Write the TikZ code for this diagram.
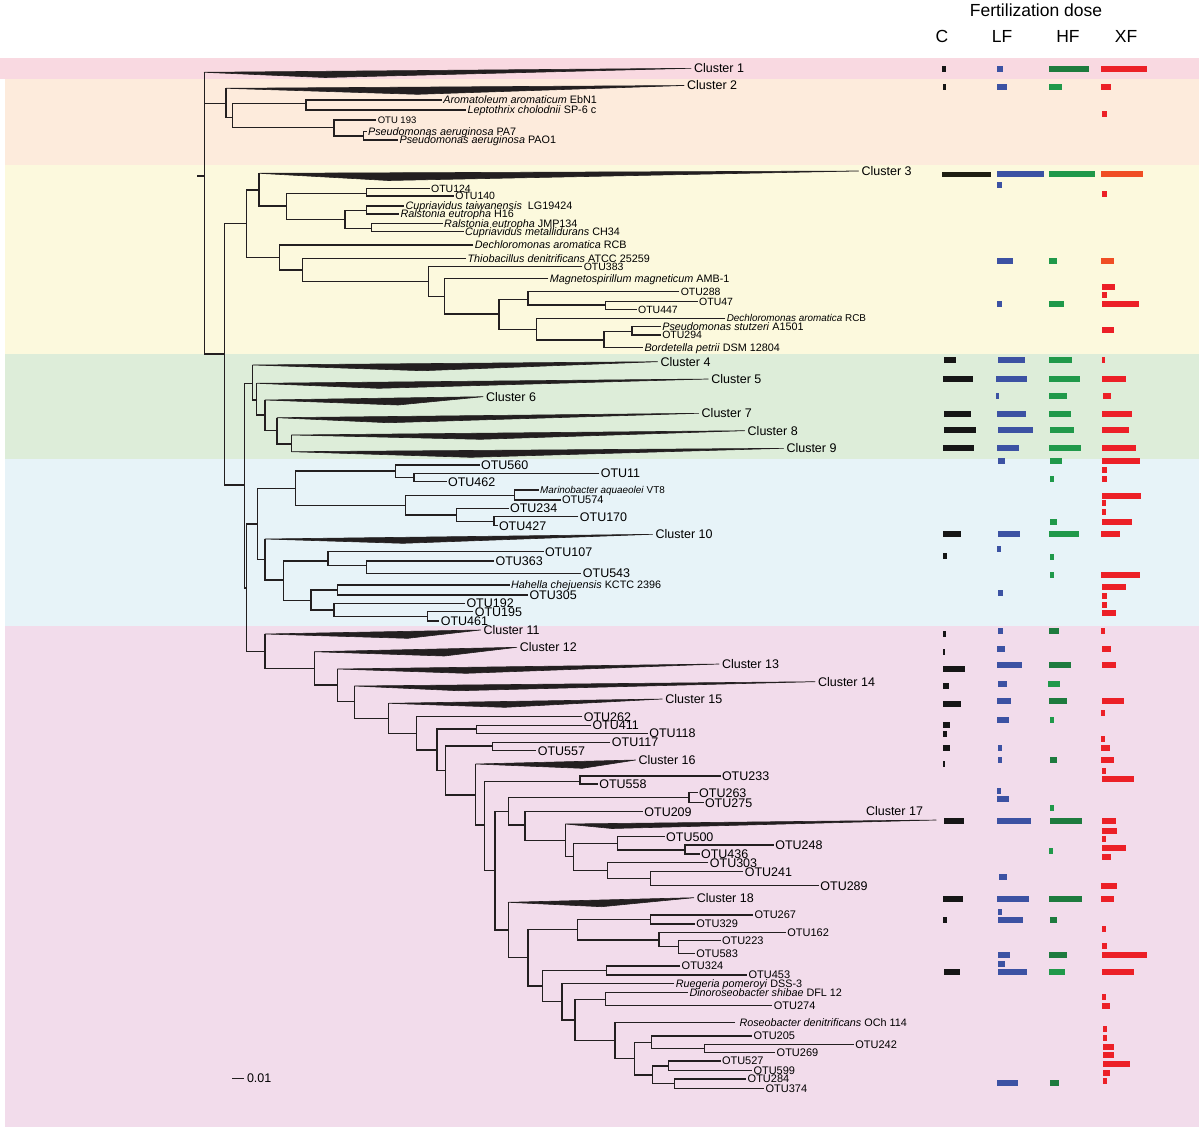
\documentclass[tikz,border=0pt]{standalone}
\usepackage{fontspec}
\setmainfont{Liberation Sans}
\definecolor{bpk}{HTML}{F9D9E1}
\definecolor{bpe}{HTML}{FDEBDC}
\definecolor{bye}{HTML}{FCF9DD}
\definecolor{bgr}{HTML}{DDEDD9}
\definecolor{bbl}{HTML}{E7F3F8}
\definecolor{bli}{HTML}{F2DCEB}
\definecolor{treec}{HTML}{231F20}
\definecolor{colC}{HTML}{161616}
\definecolor{colCo}{HTML}{1F1E12}
\definecolor{colL}{HTML}{3C52A3}
\definecolor{colH}{HTML}{20994A}
\definecolor{colHd}{HTML}{1E7B3E}
\definecolor{colX}{HTML}{EC2027}
\definecolor{colXo}{HTML}{F04E24}
\newcommand{\clade}[5]{%
  \coordinate (#1) at (#2);
  \coordinate (#1t) at (#4);
  \filldraw[twedge] (#1) -- (#3) -- (#1t) -- cycle;
  \node[tcl] (#1l) at (#1t) {#5};}
\begin{document}
\begin{tikzpicture}[x=1pt,y=-1pt,
  tbr/.style={draw=treec, line width=1.4pt},
  twedge/.style={fill=treec, draw=treec, line width=0.6pt, line join=round},
  tcl/.style={anchor=west, inner xsep=3pt, inner ysep=0pt, outer sep=0pt, font=\fontsize{12.5}{14}\selectfont, text height=8.95pt, text depth=0pt},
  tlt/.style={anchor=west, inner xsep=1.5pt, inner ysep=0pt, outer sep=0pt, font=\fontsize{10.5}{12}\selectfont, text height=7.52pt, text depth=0pt},
  tls/.style={anchor=west, inner xsep=1.5pt, inner ysep=0pt, outer sep=0pt, font=\fontsize{9.5}{11}\selectfont, text height=6.8pt, text depth=0pt},
  tlm/.style={anchor=west, inner xsep=1.5pt, inner ysep=0pt, outer sep=0pt, font=\fontsize{11}{13}\selectfont, text height=7.88pt, text depth=0pt},
  tlb/.style={anchor=west, inner xsep=1.5pt, inner ysep=0pt, outer sep=0pt, font=\fontsize{12.5}{14}\selectfont, text height=8.95pt, text depth=0pt},
  tsp/.style={anchor=west, inner xsep=1.5pt, inner ysep=0pt, outer sep=0pt, font=\fontsize{10.8}{12}\selectfont, text height=7.73pt, text depth=0pt},
  tsps/.style={anchor=west, inner xsep=1.5pt, inner ysep=0pt, outer sep=0pt, font=\fontsize{9.9}{11}\selectfont, text height=7.09pt, text depth=0pt},
  thd/.style={anchor=base, inner sep=0pt, font=\fontsize{17.5}{20}\selectfont}
]
\useasboundingbox (0,0) rectangle (1199,1127);
% bands
\fill[white] (0,0) rectangle (1199,1127);
\fill[bpk] (0,58) rectangle (1199,79);
\fill[bpe] (5,79) rectangle (1199,165);
\fill[bye] (5,165) rectangle (1199,354);
\fill[bgr] (5,354) rectangle (1199,459);
\fill[bbl] (5,459) rectangle (1199,626);
\fill[bli] (5,626) rectangle (1199,1127);
% headers
\node[thd] (hdr) at (1036,16.7) {Fertilization dose};
\node[thd] (hC) at (942,42.7) {C};
\node[thd] (hLF) at (1002,42.7) {LF};
\node[thd] (hHF) at (1068,42.7) {HF};
\node[thd] (hXF) at (1126,42.7) {XF};
% ---------- tree: top ----------
\clade{c1b}{204.2,72.3}{325,77.5}{691,68.3}{Cluster 1}
\coordinate (R) at (204.2,176);
\coordinate (Rs) at (197,176);
\coordinate (N2) at (226,103.3);
\coordinate (A) at (224.6,354);
\draw[tbr] (Rs) -- (R);
\draw[tbr] (c1b) -- (R) |- (A);
\draw[tbr] (R |- N2) -- (N2);
\clade{c2b}{226,88.3}{417.5,94.3}{684.1,85.5}{Cluster 2}
\coordinate (N2b) at (232.4,117.7);
\draw[tbr] (c2b) |- (N2b);
\coordinate (N2c) at (306,103.3);
\coordinate (N2d) at (334.1,127.7);
\draw[tbr] (N2c) -| (N2b) |- (N2d);
\node[tsp] (aro) at (441.8,100) {\textit{Aromatoleum aromaticum} EbN1};
\node[tsp] (lep) at (466,110) {\textit{Leptothrix cholodnii} SP-6 c};
\draw[tbr] (aro.west) -| (N2c) |- (lep.west);
\node[tls] (o193) at (376.3,120) {OTU 193};
\coordinate (N2e) at (363.2,136);
\draw[tbr] (o193.west) -| (N2d) |- (N2e);
\node[tsp] (pa7) at (366.6,131.7) {\textit{Pseudomonas aeruginosa} PA7};
\node[tsp] (pao) at (398.1,140) {\textit{Pseudomonas aeruginosa} PAO1};
\draw[tbr] (pa7.west) -| (N2e) |- (pao.west);
% ---------- yellow ----------
\coordinate (Y) at (246.4,223.3);
\coordinate (B) at (244.5,485);
\draw[tbr] (Y) -| (A) |- (B);
\coordinate (Y1) at (259,190);
\coordinate (Y2) at (279.4,257.3);
\draw[tbr] (Y1) -| (Y) |- (Y2);
\clade{c3b}{259,173.3}{388.4,180.5}{858.6,171}{Cluster 3}
\coordinate (Y1b) at (286.6,206);
\draw[tbr] (c3b) |- (Y1b);
\coordinate (Y1c) at (366.6,193.3);
\coordinate (Y1d) at (344.8,219.3);
\draw[tbr] (Y1c) -| (Y1b) |- (Y1d);
\node[tlt] (o124) at (429.6,188.3) {OTU124};
\node[tlt] (o140) at (453.9,196) {OTU140};
\draw[tbr] (o124.west) -| (Y1c) |- (o140.west);
\coordinate (Y1e) at (366.6,210.7);
\coordinate (Y1f) at (371.5,228.3);
\draw[tbr] (Y1e) -| (Y1d) |- (Y1f);
\node[tsp] (ctai) at (404,206) {\textit{Cupriavidus taiwanensis}\ \ LG19424};
\node[tsp] (reh) at (399,214) {\textit{Ralstonia eutropha} H16};
\draw[tbr] (ctai.west) -| (Y1e) |- (reh.west);
\node[tsp] (rej) at (442.7,223.3) {\textit{Ralstonia eutropha} JMP134};
\node[tsp] (cme) at (463.6,231.7) {\textit{Cupriavidus metallidurans} CH34};
\draw[tbr] (rej.west) -| (Y1f) |- (cme.west);
\node[tsp] (dar1) at (473.3,245) {\textit{Dechloromonas aromatica} RCB};
\coordinate (Y2b) at (302.2,270);
\draw[tbr] (dar1.west) -| (Y2) |- (Y2b);
\node[tsp] (thi) at (466,258.3) {\textit{Thiobacillus denitrificans} ATCC 25259};
\coordinate (Y2c) at (428.2,281.7);
\draw[tbr] (thi.west) -| (Y2b) |- (Y2c);
\node[tlt] (o383) at (582.3,266.7) {OTU383};
\coordinate (Y2d) at (444.2,296.7);
\draw[tbr] (o383.west) -| (Y2c) |- (Y2d);
\node[tsp] (mag) at (548.4,278.3) {\textit{Magnetospirillum magneticum} AMB-1};
\coordinate (Y2e) at (499,314);
\draw[tbr] (mag.west) -| (Y2d) |- (Y2e);
\coordinate (Y2f) at (528,299.3);
\coordinate (Y2g) at (536.3,329.3);
\draw[tbr] (Y2f) -| (Y2e) |- (Y2g);
\node[tlt] (o288) at (679.3,291.7) {OTU288};
\coordinate (Y2h) at (605.6,305);
\draw[tbr] (o288.west) -| (Y2f) |- (Y2h);
\node[tlt] (o47) at (697.7,301.7) {OTU47};
\node[tlt] (o447) at (636.6,309.3) {OTU447};
\draw[tbr] (o47.west) -| (Y2h) |- (o447.west);
\node[tsps] (dar2) at (725.3,318.3) {\textit{Dechloromonas aromatica} RCB};
\coordinate (Y2i) at (604.1,340);
\draw[tbr] (dar2.west) -| (Y2g) |- (Y2i);
\coordinate (Y2j) at (631.8,331.7);
\node[tsp] (bor) at (643,347.3) {\textit{Bordetella petrii} DSM 12804};
\draw[tbr] (Y2j) -| (Y2i) |- (bor.west);
\node[tsp] (pst) at (660.8,326.7) {\textit{Pseudomonas stutzeri} A1501};
\node[tlt] (o294) at (660.8,335) {OTU294};
\draw[tbr] (pst.west) -| (Y2j) |- (o294.west);
% ---------- green ----------
\coordinate (G) at (252.7,383.3);
\coordinate (Cn) at (246.4,588);
\draw[tbr] (G) -| (B) |- (Cn);
\clade{c4b}{252.7,365}{422.4,370.7}{657.5,361.7}{Cluster 4}
\coordinate (G2) at (256.6,400);
\draw[tbr] (c4b) |- (G2);
\clade{c5b}{256.6,383.3}{378.7,388.3}{708.4,379}{Cluster 5}
\coordinate (G3) at (264.8,415);
\draw[tbr] (c5b) |- (G3);
\clade{c6b}{264.8,400}{398.1,405}{483,396.7}{Cluster 6}
\coordinate (G4) at (277,430.7);
\draw[tbr] (c6b) |- (G4);
\clade{c7b}{277,417.7}{388.4,422.7}{698.7,413.3}{Cluster 7}
\coordinate (G5) at (291.5,444);
\draw[tbr] (c7b) |- (G5);
\clade{c8b}{291.5,435}{480.5,439.3}{744.7,430.7}{Cluster 8}
\clade{c9b}{291.5,451.7}{470.8,457.3}{783.5,448.3}{Cluster 9}
\draw[tbr] (c8b) -- (c9b);
% ---------- blue ----------
\coordinate (D) at (257.6,524);
\coordinate (P1) at (264.8,651.7);
\draw[tbr] (D) -| (Cn) |- (P1);
\coordinate (D1) at (295.4,488.3);
\coordinate (D2) at (264.8,559.3);
\draw[tbr] (D1) -| (D) |- (D2);
\coordinate (D1a) at (395.7,471);
\coordinate (D1b) at (405.4,505.7);
\draw[tbr] (D1a) -| (D1) |- (D1b);
\node[tlb] (o560) at (479.6,465) {OTU560};
\coordinate (D1c) at (414.1,477.7);
\draw[tbr] (o560.west) -| (D1a) |- (D1c);
\node[tlb] (o11) at (599.3,473.3) {OTU11};
\node[tlb] (o462) at (446.6,481.7) {OTU462};
\draw[tbr] (o11.west) -| (D1c) |- (o462.west);
\coordinate (D1d) at (514.5,495.7);
\coordinate (D1e) at (456.3,515);
\draw[tbr] (D1d) -| (D1b) |- (D1e);
\node[tsps] (mar) at (538.7,490) {\textit{Marinobacter aquaeolei} VT8};
\node[tlm] (o574) at (560.5,500) {OTU574};
\draw[tbr] (mar.west) -| (D1d) |- (o574.west);
\node[tlb] (o234) at (508.6,508.3) {OTU234};
\coordinate (D1f) at (494.1,521.7);
\draw[tbr] (o234.west) -| (D1e) |- (D1f);
\node[tlb] (o170) at (578.4,516.7) {OTU170};
\node[tlb] (o427) at (497.5,525.7) {OTU427};
\draw[tbr] (o170.west) -| (D1f) |- (o427.west);
\clade{c10b}{264.8,539}{403,543.3}{652.6,534.3}{Cluster 10}
\coordinate (D3) at (283.2,580);
\draw[tbr] (c10b) |- (D3);
\coordinate (D3a) at (327.8,561);
\coordinate (D3b) at (310.9,600.7);
\draw[tbr] (D3a) -| (D3) |- (D3b);
\node[tlb] (o107) at (543.5,551.7) {OTU107};
\coordinate (D3c) at (366.6,565.7);
\draw[tbr] (o107.west) -| (D3a) |- (D3c);
\node[tlb] (o363) at (494.1,561) {OTU363};
\node[tlb] (o543) at (581.4,573.3) {OTU543};
\draw[tbr] (o363.west) -| (D3c) |- (o543.west);
\coordinate (D3d) at (337.5,590);
\coordinate (D3e) at (334.1,610);
\draw[tbr] (D3d) -| (D3b) |- (D3e);
\node[tsp] (hah) at (509.6,585) {\textit{Hahella chejuensis} KCTC 2396};
\node[tlb] (o305) at (528,595) {OTU305};
\draw[tbr] (hah.west) -| (D3d) |- (o305.west);
\node[tlb] (o192) at (465,603.3) {OTU192};
\coordinate (D3f) at (427.2,616.7);
\draw[tbr] (o192.west) -| (D3e) |- (D3f);
\node[tlb] (o195) at (473.3,611.7) {OTU195};
\node[tlb] (o461) at (439.3,621) {OTU461};
\draw[tbr] (o195.west) -| (D3f) |- (o461.west);
% ---------- pink ----------
\clade{c11b}{264.8,634}{407.8,638.3}{480.5,630}{Cluster 11}
\coordinate (P2) at (314.3,668.3);
\draw[tbr] (c11b) |- (P2);
\clade{c12b}{314.3,651.7}{444.2,656}{516.9,647.3}{Cluster 12}
\coordinate (P3) at (337.5,685);
\draw[tbr] (c12b) |- (P3);
\clade{c13b}{337.5,669}{466,673.3}{719,664}{Cluster 13}
\coordinate (P4) at (354.5,701.7);
\draw[tbr] (c13b) |- (P4);
\clade{c14b}{354.5,686}{458.7,690.7}{815,681.7}{Cluster 14}
\coordinate (P5) at (388.4,718.3);
\draw[tbr] (c14b) |- (P5);
\clade{c15b}{388.4,703.3}{504.8,707.3}{662.3,699}{Cluster 15}
\coordinate (P6) at (416.5,733.3);
\draw[tbr] (c15b) |- (P6);
\node[tlb] (o262) at (582.3,716.7) {OTU262};
\coordinate (P7) at (436.9,750);
\draw[tbr] (o262.west) -| (P6) |- (P7);
\coordinate (P8) at (476.7,729);
\coordinate (P9) at (445.6,770.7);
\draw[tbr] (P8) -| (P7) |- (P9);
\node[tlb] (o411) at (591,725.3) {OTU411};
\node[tlb] (o118) at (647.8,733.3) {OTU118};
\draw[tbr] (o411.west) -| (P8) |- (o118.west);
\coordinate (P10) at (492.7,746);
\coordinate (P11) at (475.7,795);
\draw[tbr] (P10) -| (P9) |- (P11);
\node[tlb] (o117) at (610.4,742.3) {OTU117};
\node[tlb] (o557) at (536.3,750.7) {OTU557};
\draw[tbr] (o117.west) -| (P10) |- (o557.west);
\clade{c16b}{475.7,764}{582.3,768.3}{635.6,760}{Cluster 16}
\coordinate (P12) at (484.4,825);
\draw[tbr] (c16b) |- (P12);
\coordinate (P13) at (579.9,781.7);
\coordinate (P14) at (495.1,870.7);
\draw[tbr] (P13) -| (P12) |- (P14);
\node[tlb] (o233) at (720.5,776) {OTU233};
\node[tlb] (o558) at (597.8,784) {OTU558};
\draw[tbr] (o233.west) -| (P13) |- (o558.west);
\coordinate (P15) at (508.2,811.7);
\coordinate (P20) at (508.2,930);
\draw[tbr] (P15) -| (P14) |- (P20);
\coordinate (P16) at (689,797.3);
\coordinate (P17) at (525.1,825);
\draw[tbr] (P16) -| (P15) |- (P17);
\node[tlb] (o263) at (697.7,792.7) {OTU263};
\node[tlb] (o275) at (703.5,802.7) {OTU275};
\draw[tbr] (o263.west) -| (P16) |- (o275.west);
\node[tlb] (o209) at (642.9,811.7) {OTU209};
\coordinate (P18) at (565.4,840.7);
\draw[tbr] (o209.west) -| (P17) |- (P18);
\coordinate (c17b) at (565.4,824);
\coordinate (c17bt) at (936.2,820);
\filldraw[twedge] (c17b) -- (612,828.5) -- (c17bt) -- cycle;
\node[tcl] (c17bl) at (863,811) {Cluster 17};
\coordinate (P19) at (573.6,856.7);
\draw[tbr] (c17b) -- (P18) |- (P19);
\coordinate (P19a) at (617.2,843.3);
\coordinate (P19b) at (607.5,870.7);
\draw[tbr] (P19a) -| (P19) |- (P19b);
\node[tlb] (o500) at (664.7,836.7) {OTU500};
\coordinate (P19c) at (685.1,850);
\draw[tbr] (o500.west) -| (P19a) |- (P19c);
\node[tlb] (o248) at (773.8,845) {OTU248};
\node[tlb] (o436) at (699.6,854) {OTU436};
\draw[tbr] (o248.west) -| (P19c) |- (o436.west);
\node[tlb] (o303) at (708.4,862.7) {OTU303};
\coordinate (P19d) at (650.2,878.3);
\draw[tbr] (o303.west) -| (P19b) |- (P19d);
\node[tlb] (o241) at (743.3,871.7) {OTU241};
\node[tlb] (o289) at (818.9,885.7) {OTU289};
\draw[tbr] (o241.west) -| (P19d) |- (o289.west);
\clade{c18b}{508.2,902.3}{601.7,906.7}{693.8,897.7}{Cluster 18}
\coordinate (P21) at (528,957.3);
\draw[tbr] (c18b) |- (P21);
\coordinate (P22) at (577.5,929.3);
\coordinate (P25) at (542.6,986);
\draw[tbr] (P22) -| (P21) |- (P25);
\coordinate (P23) at (650.2,919.3);
\coordinate (P24) at (658.9,940);
\draw[tbr] (P23) -| (P22) |- (P24);
\node[tlm] (o267) at (753,915) {OTU267};
\node[tlm] (o329) at (694.8,924) {OTU329};
\draw[tbr] (o267.west) -| (P23) |- (o329.west);
\node[tlm] (o162) at (785.9,932.7) {OTU162};
\coordinate (P24b) at (678.3,946.7);
\draw[tbr] (o162.west) -| (P24) |- (P24b);
\node[tlm] (o223) at (720.5,940.7) {OTU223};
\node[tlm] (o583) at (694.8,953.3) {OTU583};
\draw[tbr] (o223.west) -| (P24b) |- (o583.west);
\coordinate (P26) at (606.6,970.7);
\coordinate (P27) at (562,1001.7);
\draw[tbr] (P26) -| (P25) |- (P27);
\node[tlm] (o324) at (680.2,966) {OTU324};
\node[tlm] (o453) at (747.1,975) {OTU453};
\draw[tbr] (o324.west) -| (P26) |- (o453.west);
\node[tsp] (rue) at (674.4,983.3) {\textit{Ruegeria pomeroyi} DSS-3};
\coordinate (P28) at (575,1020);
\draw[tbr] (rue.west) -| (P27) |- (P28);
\coordinate (P29) at (605.6,999.3);
\coordinate (P30) at (614.8,1040.7);
\draw[tbr] (P29) -| (P28) |- (P30);
\node[tsp] (din) at (688,992.7) {\textit{Dinoroseobacter shibae} DFL 12};
\node[tlm] (o274) at (772.3,1005.7) {OTU274};
\draw[tbr] (din.west) -| (P29) |- (o274.west);
\node[tsp] (ros) at (735,1022.7) {\ \textit{Roseobacter denitrificans} OCh 114};
\coordinate (P31) at (634.2,1058.3);
\draw[tbr] (ros.west) -| (P30) |- (P31);
\coordinate (P32) at (651.2,1042.7);
\coordinate (P33) at (652.6,1075);
\draw[tbr] (P32) -| (P31) |- (P33);
\node[tlm] (o205) at (752,1036) {OTU205};
\coordinate (P32b) at (704.5,1048.3);
\draw[tbr] (o205.west) -| (P32) |- (P32b);
\node[tlm] (o242) at (853.8,1044.3) {OTU242};
\node[tlm] (o269) at (775.2,1052.7) {OTU269};
\draw[tbr] (o242.west) -| (P32b) |- (o269.west);
\coordinate (P33a) at (668.6,1066);
\coordinate (P33b) at (674.4,1083.3);
\draw[tbr] (P33a) -| (P33) |- (P33b);
\node[tlm] (o527) at (720.5,1061) {OTU527};
\node[tlm] (o599) at (752,1070.7) {OTU599};
\draw[tbr] (o527.west) -| (P33a) |- (o599.west);
\node[tlm] (o284) at (746.2,1079) {OTU284};
\node[tlm] (o374) at (764.1,1088.3) {OTU374};
\draw[tbr] (o284.west) -| (P33b) |- (o374.west);
% scale bar
\coordinate (sb1) at (232.4,1078.3);
\coordinate (sb2) at (244,1078.3);
\draw[draw=treec, line width=1.2pt] (sb1) -- (sb2);
\node[tlb] (sbt) at (245.5,1078.3) {0.01};
% ---------- bars ----------
\foreach \y/\a/\b in {69/942/946, 87/943/946, 360/944/956, 379/943/973, 414/944/971, 430/944/976, 448/943/974, 534/943/961, 556/943/947, 634/943/946, 652/943/945, 669/943/965, 686/943/949, 704/943/961, 725/943/950, 734/943/947, 748/943/950, 764/943/945, 821/944/964, 899/943/963, 920/943/947, 972/944/960}
  \fill[colC] (\a,\y-2.8) rectangle (\b,\y+2.8);
\fill[colCo] (942,171.5) rectangle (991,176.5);
\foreach \y/\a/\b in {69/997/1003, 87/997/1007, 174/997/1044, 185/997/1002, 261/997/1013, 304/997/1002, 360/998/1025, 379/996/1027, 396/996/999, 414/997/1026, 430/998/1033, 448/997/1019, 461/998/1005, 534/998/1020, 549/997/1001, 593/998/1003, 631/998/1003, 649/997/1005, 665/997/1022, 684/998/1007, 701/997/1011, 720/997/1009, 748/998/1002, 760/998/1002, 791/997/1001, 799/997/1009, 821/997/1031, 877/999/1007, 899/997/1029, 912/998/1002, 920/998/1023, 955/998/1010, 964/998/1005, 972/998/1027, 1083/997/1018}
  \fill[colL] (\a,\y-2.8) rectangle (\b,\y+2.8);
\foreach \y/\a/\b in {87/1049/1062, 174/1049/1095, 261/1049/1057, 304/1049/1064, 360/1049/1072, 379/1049/1080, 396/1049/1067, 414/1049/1071, 430/1050/1074, 448/1049/1081, 461/1050/1062, 479/1050/1054, 522/1050/1057, 534/1049/1079, 557/1050/1054, 575/1050/1054, 684/1048/1060, 720/1050/1054, 808/1050/1054, 851/1049/1053, 972/1049/1065}
  \fill[colH] (\a,\y-2.8) rectangle (\b,\y+2.8);
\foreach \y/\a/\b in {69/1049/1089, 631/1049/1059, 665/1049/1071, 701/1049/1067, 760/1050/1057, 821/1050/1082, 899/1049/1082, 920/1050/1057, 955/1049/1067, 1083/1050/1059}
  \fill[colHd] (\a,\y-2.8) rectangle (\b,\y+2.8);
\foreach \y/\a/\b in {69/1101/1147, 87/1101/1111, 114/1102/1107, 194/1102/1107, 287/1102/1115, 295/1102/1107, 304/1102/1139, 330/1102/1114, 360/1102/1105, 379/1102/1126, 396/1103/1111, 414/1102/1132, 430/1102/1129, 448/1102/1136, 461/1102/1140, 470/1102/1107, 479/1102/1107, 496/1102/1141, 503/1102/1106, 512/1102/1106, 522/1102/1132, 534/1101/1120, 575/1101/1140, 587/1102/1126, 596/1102/1107, 605/1102/1107, 613/1102/1116, 631/1101/1105, 649/1102/1111, 665/1102/1116, 701/1102/1124, 713/1101/1105, 739/1101/1105, 748/1101/1110, 760/1101/1114, 771/1102/1106, 779/1102/1134, 821/1102/1116, 831/1102/1117, 839/1102/1106, 848/1102/1126, 857/1102/1111, 886/1101/1117, 899/1101/1114, 929/1102/1106, 946/1102/1107, 955/1102/1147, 972/1102/1134, 997/1102/1106, 1006/1102/1110, 1029/1103/1107, 1038/1103/1107, 1047/1103/1114, 1055/1103/1114, 1064/1103/1130, 1073/1103/1110, 1081/1103/1107}
  \fill[colX] (\a,\y-2.8) rectangle (\b,\y+2.8);
\foreach \y/\a/\b in {174/1101/1143, 261/1101/1114}
  \fill[colXo] (\a,\y-2.8) rectangle (\b,\y+2.8);
\end{tikzpicture}
\end{document}
